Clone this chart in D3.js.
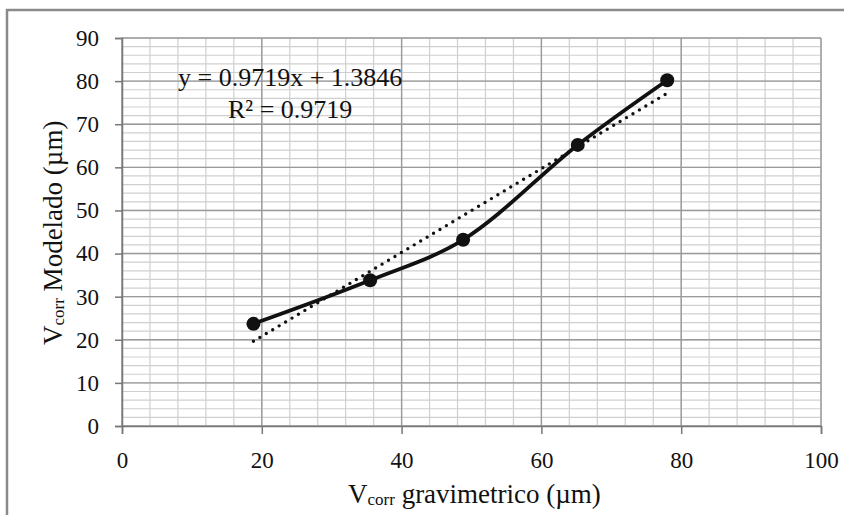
<!DOCTYPE html>
<html><head><meta charset="utf-8">
<script src="https://cdn.jsdelivr.net/npm/d3@7"></script>
<style>body{margin:0;background:#fff}svg{display:block}</style>
</head><body>
<script>
const xValues = [18.8, 35.5, 48.8, 65.2, 78.0];
const yValues = [23.7, 33.8, 43.2, 65.2, 80.2];
const slope = 0.9719, intercept = 1.3846;
const xTicks = [0, 20, 40, 60, 80, 100];
const yTicks = [0, 10, 20, 30, 40, 50, 60, 70, 80, 90];
const equationLines = ["y = 0.9719x + 1.3846", "R² = 0.9719"];

const W = 844, H = 515;
const svg = d3.select("body").append("svg").attr("width", W).attr("height", H);
svg.append("rect").attr("width", W).attr("height", H).attr("fill", "#fff");

const x = d3.scaleLinear().domain([0, 100]).range([122, 821]);
const y = d3.scaleLinear().domain([0, 90]).range([426, 38]);
const font = "'Liberation Serif', 'Times New Roman', serif";

// outer border
svg.append("path").attr("d", `M7,${H} V10 H${W}`).attr("fill", "none").attr("stroke", "#8a8a8a").attr("stroke-width", 2.5);

// minor grid
const g = svg.append("g");
g.selectAll(".vm").data(d3.range(0, 101, 4)).join("line")
  .attr("x1", d => x(d)).attr("x2", d => x(d)).attr("y1", y(0)).attr("y2", y(90))
  .attr("stroke", "#cfcfcf").attr("stroke-width", 1.2);
g.selectAll(".hm").data(d3.range(0, 91, 2)).join("line")
  .attr("y1", d => y(d)).attr("y2", d => y(d)).attr("x1", x(0)).attr("x2", x(100))
  .attr("stroke", "#cfcfcf").attr("stroke-width", 1.2);
// major grid
g.selectAll(".vM").data(xTicks).join("line")
  .attr("x1", d => x(d)).attr("x2", d => x(d)).attr("y1", y(0)).attr("y2", y(90))
  .attr("stroke", "#9a9a9a").attr("stroke-width", 1.4);
g.selectAll(".hM").data(yTicks).join("line")
  .attr("y1", d => y(d)).attr("y2", d => y(d)).attr("x1", x(0)).attr("x2", x(100))
  .attr("stroke", "#9a9a9a").attr("stroke-width", 1.4);

// axes
const xa = svg.append("g").attr("transform", `translate(0,${y(0)})`)
  .call(d3.axisBottom(x).tickValues(xTicks).tickSize(8).tickPadding(18));
const ya = svg.append("g").attr("transform", `translate(${x(0)},0)`)
  .call(d3.axisLeft(y).tickValues(yTicks).tickSize(7).tickPadding(16));
[xa, ya].forEach(a => {
  a.select(".domain").attr("stroke", "#777").attr("stroke-width", 1.5);
  a.selectAll(".tick line").attr("stroke", "#777").attr("stroke-width", 1.5);
  a.selectAll("text").attr("font-family", font).attr("font-size", 23).attr("fill", "#111");
});

// trendline (dotted)
const tx0 = xValues[0], tx1 = xValues[xValues.length - 1];
svg.append("line")
  .attr("x1", x(tx0)).attr("y1", y(slope * tx0 + intercept))
  .attr("x2", x(tx1)).attr("y2", y(slope * tx1 + intercept))
  .attr("stroke", "#111").attr("stroke-width", 3.4)
  .attr("stroke-linecap", "round").attr("stroke-dasharray", "0,7.5");

// smoothed series line
const pts = xValues.map((v, i) => [v, yValues[i]]);
svg.append("path").datum(pts)
  .attr("d", d3.line().x(d => x(d[0])).y(d => y(d[1])).curve(d3.curveCatmullRom.alpha(0.5)))
  .attr("fill", "none").attr("stroke", "#111").attr("stroke-width", 3.8);
svg.selectAll(".pt").data(pts).join("circle")
  .attr("cx", d => x(d[0])).attr("cy", d => y(d[1])).attr("r", 7).attr("fill", "#111");

// equation
svg.append("text").attr("x", 178).attr("y", 86)
  .attr("font-family", font).attr("font-size", 26).attr("fill", "#111").text(equationLines[0]);
svg.append("text").attr("x", 228).attr("y", 118)
  .attr("font-family", font).attr("font-size", 26).attr("fill", "#111").text(equationLines[1]);

// axis titles
const xt = svg.append("text").attr("x", 348).attr("y", 503)
  .attr("font-family", font).attr("font-size", 27).attr("fill", "#111");
xt.append("tspan").text("V");
xt.append("tspan").attr("font-size", 17).attr("dy", 2).text("corr");
xt.append("tspan").attr("dy", -2).text(" gravimetrico (µm)");

const yt = svg.append("text").attr("transform", "translate(62,345) rotate(-90)")
  .attr("font-family", font).attr("font-size", 27).attr("fill", "#111");
yt.append("tspan").text("V");
yt.append("tspan").attr("font-size", 17).attr("dy", 2).text("corr");
yt.append("tspan").attr("dy", -2).text(" Modelado (µm)");
</script>
</body></html>
